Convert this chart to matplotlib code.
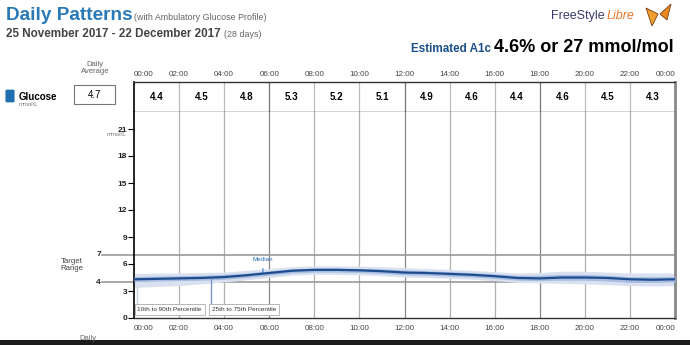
import numpy as np
import matplotlib
matplotlib.use("Agg")
import matplotlib.pyplot as plt
from matplotlib.patches import Rectangle, FancyBboxPatch, Polygon

plt.rcParams['font.family'] = ['Liberation Sans', 'DejaVu Sans']

# ---- data ----
hours = list(range(25))
median = [4.3, 4.35, 4.4, 4.45, 4.55, 4.75, 5.0, 5.25, 5.35, 5.35, 5.3, 5.2, 5.05,
          5.0, 4.9, 4.8, 4.65, 4.45, 4.4, 4.5, 4.5, 4.45, 4.3, 4.25, 4.3]
p75 = [4.6, 4.65, 4.7, 4.75, 4.85, 5.0, 5.25, 5.45, 5.55, 5.55, 5.5, 5.45, 5.35,
       5.25, 5.15, 5.05, 4.9, 4.75, 4.75, 4.85, 4.85, 4.75, 4.6, 4.6, 4.6]
p25 = [4.05, 4.1, 4.15, 4.2, 4.3, 4.5, 4.75, 5.0, 5.1, 5.1, 5.05, 4.95, 4.8,
       4.75, 4.65, 4.55, 4.4, 4.2, 4.15, 4.2, 4.2, 4.1, 3.95, 3.95, 4.0]
p90 = [4.95, 5.0, 5.0, 5.05, 5.1, 5.3, 5.5, 5.7, 5.8, 5.8, 5.75, 5.7, 5.6,
       5.5, 5.4, 5.3, 5.15, 5.0, 5.05, 5.2, 5.2, 5.1, 5.0, 5.0, 5.0]
p10 = [3.4, 3.5, 3.6, 3.8, 4.0, 4.25, 4.5, 4.75, 4.85, 4.85, 4.8, 4.7, 4.55,
       4.5, 4.4, 4.3, 4.15, 3.95, 3.9, 3.85, 3.8, 3.7, 3.6, 3.55, 3.6]

block_avg = [4.4, 4.5, 4.8, 5.3, 5.2, 5.1, 4.9, 4.6, 4.4, 4.6, 4.5, 4.3]
daily_avg = 4.7
time_ticks = list(range(0, 25, 2))
time_labels = ["%02d:00" % (h % 24) for h in time_ticks]
y_ticks = [0, 3, 6, 9, 12, 15, 18, 21]
target = [4, 7]

W, H = 690, 345
def fx(x):
    return x / W
def fy(y):
    return 1 - y / H

fig = plt.figure(figsize=(6.9, 3.45), dpi=100)
fig.patch.set_facecolor('white')

blue_title = '#2a7ab8'

# ---- header ----
fig.text(fx(6), fy(15), "Daily Patterns", fontsize=13.7, fontweight='bold',
         color=blue_title, va='center')
fig.text(fx(134), fy(18), "(with Ambulatory Glucose Profile)", fontsize=6.4,
         color='#666666', va='center')
fig.text(fx(6), fy(34), "25 November 2017 - 22 December 2017", fontsize=8.4,
         fontweight='bold', color='#444444', va='center')
fig.text(fx(224), fy(34.5), "(28 days)", fontsize=6.4, color='#666666', va='center')

fig.text(fx(605), fy(16), "FreeStyle", fontsize=9, color='#3c3c6e', va='center',
         ha='right')
fig.text(fx(607), fy(16), "Libre", fontsize=9, color='#e8782a', style='italic',
         va='center')
# little butterfly mark
fig.patches.append(Polygon([(fx(646), fy(8)), (fx(658), fy(14)), (fx(652), fy(26))],
                           closed=True, transform=fig.transFigure,
                           fc='#f0a030', ec='#7a3a10', lw=0.6))
fig.patches.append(Polygon([(fx(660), fy(14)), (fx(671), fy(4)), (fx(667), fy(20))],
                           closed=True, transform=fig.transFigure,
                           fc='#e88a20', ec='#7a3a10', lw=0.6))

fig.text(fx(491), fy(49), "Estimated A1c", fontsize=8.4, fontweight='bold',
         color='#1b4f8a', va='center', ha='right')
fig.text(fx(494), fy(47), "4.6% or 27 mmol/mol", fontsize=13, fontweight='bold',
         color='black', va='center')

# ---- left labels ----
fig.text(fx(95), fy(68), "Daily\nAverage", fontsize=5.5, color='#666666',
         ha='center', va='center', linespacing=1.0)
fig.patches.append(Rectangle((fx(74), fy(104)), fx(115) - fx(74), fy(85) - fy(104),
                             transform=fig.transFigure, fc='white', ec='#777777', lw=0.8))
fig.text(fx(94.5), fy(95), "%.1f" % daily_avg, fontsize=7, color='black',
         ha='center', va='center')
fig.patches.append(FancyBboxPatch((fx(7.5), fy(101)), fx(5), fy(91) - fy(101),
                                  boxstyle='round,pad=0.002', transform=fig.transFigure,
                                  fc='#1f6fb0', ec='#1f6fb0'))
fig.text(fx(19), fy(96.5), "Glucose", fontsize=7, fontweight='bold', color='black',
         va='center')
fig.text(fx(19), fy(104.5), "mmol/L", fontsize=4.3, color='#777777', va='center')
fig.text(fx(72), fy(265), "Target\nRange", fontsize=5.6, color='#444444',
         ha='center', va='center', linespacing=1.0)
fig.text(fx(88), fy(338), "Daily", fontsize=5.5, color='#666666', ha='center',
         va='center')

# ---- table of 2-hour averages ----
left, right = fx(134), fx(675)
tab = fig.add_axes([left, fy(112.3), right - left, fy(81.7) - fy(112.3)])
tab.set_xlim(0, 24)
tab.set_ylim(0, 1)
for i, v in enumerate(block_avg):
    tab.text(2 * i + 1, 0.5, "%.1f" % v, ha='center', va='center', fontsize=7,
             fontweight='bold')
for h in time_ticks[1:-1]:
    major = h % 6 == 0
    tab.axvline(h, color='#777777' if major else '#bbbbbb', lw=0.9)
tab.set_xticks(time_ticks)
tab.set_xticklabels(time_labels, fontsize=5.8, color='#444444')
tab.xaxis.tick_top()
tab.tick_params(axis='x', length=0, pad=3)
tab.set_yticks([])
for s in ['top', 'bottom']:
    tab.spines[s].set_color('#333333')
    tab.spines[s].set_linewidth(1.0)
tab.spines['left'].set_color('black')
tab.spines['left'].set_linewidth(1.2)
tab.spines['right'].set_color('#888888')
tab.spines['right'].set_linewidth(2)
labs = tab.get_xticklabels()
labs[0].set_ha('left')
labs[-1].set_ha('right')

# ---- main AGP panel ----
ax = fig.add_axes([left, fy(318), right - left, fy(112.3) - fy(318)])
ax.set_xlim(0, 24)
ax.set_ylim(0, (318 - 112.3) / 9.0)

for h in time_ticks[1:-1]:
    major = h % 6 == 0
    ax.axvline(h, color='#888888' if major else '#b0b0b0', lw=0.9, zorder=1)
for t in target:
    ax.plot([-32 / 22.54, 24], [t, t], color='#999999', lw=1.2, clip_on=False,
            zorder=1)
    ax.text(-33 / 22.54, t, str(t), ha='right', va='center', fontsize=6,
            fontweight='bold', color='#222222')

ax.fill_between(hours, p10, p90, color='#d9e1f0', lw=0, zorder=2)
ax.fill_between(hours, p25, p75, color='#a9bde0', lw=0, zorder=3)
ax.plot(hours, median, color='#1d4d8f', lw=1.6, zorder=4)

# median call-out
ax.annotate("Median", xy=(5.72, 5.05), xytext=(5.72, 6.55), fontsize=4.5,
            color='#2a6db0', ha='center', va='center',
            arrowprops=dict(arrowstyle='-', color='#2a6db0', lw=0.7,
                            shrinkA=3, shrinkB=0))

# percentile legend tags
ax.plot([0.13, 0.13], [1.7, 3.5], color='#c9d3ea', lw=1.0, zorder=5)
ax.plot([3.4, 3.4], [1.7, 4.3], color='#7d95c4', lw=1.0, zorder=5)
ax.text(0.15, 0.95, "10th to 90th Percentile", fontsize=4.6, color='#333333',
        va='center', zorder=6,
        bbox=dict(boxstyle='square,pad=0.45', fc='white', ec='#aaaaaa', lw=0.6))
ax.text(3.45, 0.95, "25th to 75th Percentile", fontsize=4.6, color='#333333',
        va='center', zorder=6,
        bbox=dict(boxstyle='square,pad=0.45', fc='white', ec='#aaaaaa', lw=0.6))

ax.set_yticks(y_ticks)
ax.set_yticklabels([str(v) for v in y_ticks], fontsize=6, fontweight='bold',
                   color='#222222')
ax.tick_params(axis='y', length=4, width=0.8, pad=1, direction='out')
ax.text(-0.35, 20.35, "mmol/L", fontsize=4.3, color='#777777', ha='right',
        va='center')

ax.set_xticks(time_ticks)
ax.set_xticklabels(time_labels, fontsize=5.8, color='#444444')
ax.tick_params(axis='x', length=0, pad=5)
labs = ax.get_xticklabels()
labs[0].set_ha('left')
labs[-1].set_ha('right')

ax.spines['top'].set_visible(False)
ax.spines['left'].set_color('black')
ax.spines['left'].set_linewidth(1.2)
ax.spines['bottom'].set_color('#333333')
ax.spines['bottom'].set_linewidth(1.0)
ax.spines['right'].set_color('#888888')
ax.spines['right'].set_linewidth(2)

# dark strip at the bottom of the screenshot
fig.patches.append(Rectangle((0, 0), 1, fy(340), transform=fig.transFigure,
                             fc='#1c1c1c', ec='none'))

fig.savefig("out.png", dpi=100)
